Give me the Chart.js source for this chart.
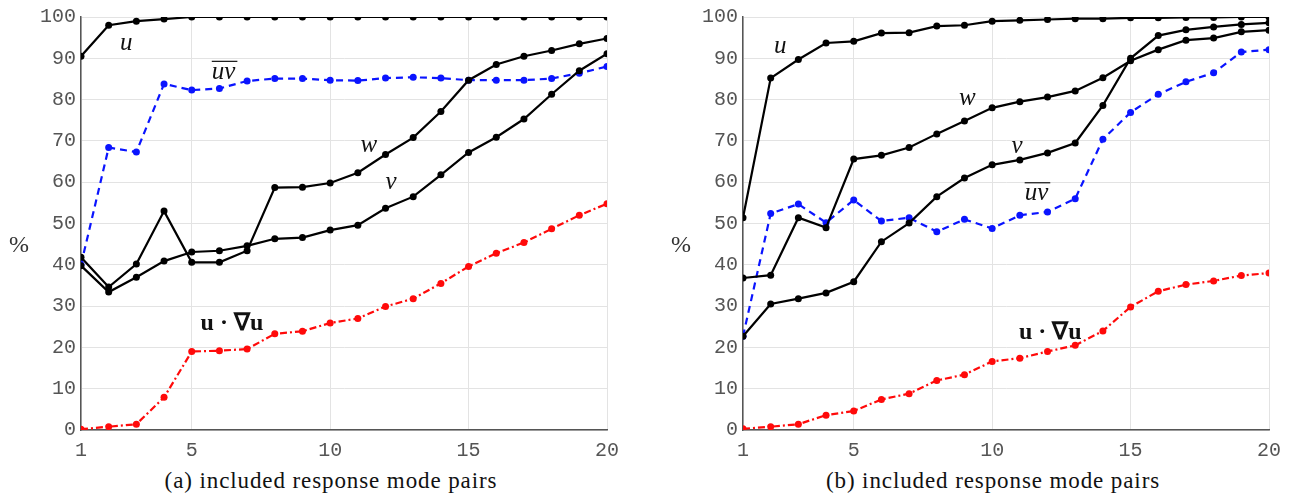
<!DOCTYPE html>
<html>
<head>
<meta charset="utf-8">
<script src="https://cdn.jsdelivr.net/npm/chart.js@4/dist/chart.umd.min.js"></script>
<style>
  body { margin: 0; background: #fff; width: 1291px; height: 495px; position: relative; overflow: hidden; }
  .panel { position: absolute; top: 0; height: 462px; }
  .caption { position: absolute; top: 468px; font: 23px "Liberation Serif", serif; letter-spacing: 0.9px; color: #111; white-space: nowrap; transform: translateX(-50%); }
  .pct { position: absolute; font: 24px "Liberation Serif", serif; color: #333; }
</style>
</head>
<body>
<div class="panel" style="left:0;width:640px"><canvas id="chart-a"></canvas></div>
<div class="panel" style="left:662px;width:629px"><canvas id="chart-b"></canvas></div>
<div class="pct" style="left:9px;top:231px">%</div>
<div class="pct" style="left:671px;top:231px">%</div>
<div class="caption" style="left:331px">(a) included response mode pairs</div>
<div class="caption" style="left:993px">(b) included response mode pairs</div>
<script>
const modes = [1, 2, 3, 4, 5, 6, 7, 8, 9, 10, 11, 12, 13, 14, 15, 16, 17, 18, 19, 20];
const xTicks = [1, 5, 10, 15, 20];

// (a)
const uA = [90.5, 98, 99, 99.5, 100, 100, 100, 100, 100, 100, 100, 100, 100, 100, 100, 100, 100, 100, 100, 100];
const wA = [41.8, 34.6, 40.2, 53, 40.6, 40.6, 43.4, 58.7, 58.8, 59.8, 62.3, 66.7, 70.8, 77.1, 84.7, 88.5, 90.5, 91.9, 93.5, 94.8];
const vA = [39.8, 33.4, 37, 40.9, 43.1, 43.4, 44.6, 46.3, 46.6, 48.4, 49.6, 53.7, 56.5, 61.8, 67.2, 70.9, 75.3, 81.3, 87.0, 91.1];
const uvA = [40, 68.4, 67.3, 83.8, 82.3, 82.7, 84.5, 85.1, 85.1, 84.7, 84.6, 85.2, 85.4, 85.2, 84.7, 84.7, 84.7, 85.1, 86.4, 88.0];
const gradA = [0.2, 0.8, 1.4, 7.9, 19, 19.2, 19.6, 23.3, 23.9, 25.9, 27, 29.9, 31.8, 35.5, 39.6, 42.8, 45.4, 48.7, 52.0, 54.8];

// (b)
const uB = [51.4, 85.2, 89.7, 93.7, 94.1, 96.1, 96.2, 97.8, 98, 99, 99.2, 99.4, 99.6, 99.6, 99.8, 99.8, 99.9, 99.9, 100, 100];
const wB = [36.8, 37.5, 51.4, 49, 65.6, 66.5, 68.4, 71.7, 74.8, 78, 79.5, 80.6, 82.1, 85.3, 89.4, 92.1, 94.4, 94.9, 96.4, 96.8];
const vB = [22.7, 30.5, 31.8, 33.2, 35.9, 45.6, 50.1, 56.5, 61, 64.2, 65.4, 67.1, 69.5, 78.6, 90, 95.5, 96.9, 97.6, 98.2, 98.6];
const uvB = [22.7, 52.4, 54.7, 50.2, 55.7, 50.6, 51.4, 48, 51, 48.8, 52, 52.8, 56, 70.4, 76.9, 81.3, 84.3, 86.5, 91.5, 92.1];
const gradB = [0.3, 0.8, 1.4, 3.6, 4.6, 7.4, 8.8, 12, 13.4, 16.6, 17.4, 19, 20.5, 24, 29.8, 33.6, 35.2, 36.1, 37.4, 38];

// label positions in data coordinates
const labelsA = [
  { text: 'u', x: 2.63, y: 93.5, font: 'italic 25px "Liberation Serif", serif' },
  { text: 'uv', x: 6.15, y: 86.6, font: 'italic 25px "Liberation Serif", serif', overline: true },
  { text: 'w', x: 11.4, y: 68.8, font: 'italic 25px "Liberation Serif", serif' },
  { text: 'v', x: 12.2, y: 59.9, font: 'italic 25px "Liberation Serif", serif' },
  { text: 'u · ∇u', x: 6.45, y: 25.8, font: 'bold 24px "Liberation Serif", serif' }
];
const labelsB = [
  { text: 'u', x: 2.35, y: 92.8, font: 'italic 25px "Liberation Serif", serif' },
  { text: 'w', x: 9.1, y: 80.4, font: 'italic 25px "Liberation Serif", serif' },
  { text: 'v', x: 10.9, y: 68.7, font: 'italic 25px "Liberation Serif", serif' },
  { text: 'uv', x: 11.6, y: 57.2, font: 'italic 25px "Liberation Serif", serif', overline: true },
  { text: 'u · ∇u', x: 12.1, y: 23.6, font: 'bold 24px "Liberation Serif", serif' }
];

const toPoints = (vals) => vals.map((v, i) => ({ x: modes[i], y: v }));

const lineSet = (vals, color, dash) => ({
  data: toPoints(vals),
  borderColor: color,
  backgroundColor: color,
  borderWidth: 2.2,
  borderDash: dash,
  pointRadius: 3.5,
  pointBorderWidth: 0,
  tension: 0
});

const textPlugin = {
  id: 'mathLabels',
  afterDatasetsDraw(chart, args, opts) {
    const { ctx, scales: { x, y } } = chart;
    ctx.save();
    ctx.fillStyle = '#111';
    ctx.textAlign = 'center';
    ctx.textBaseline = 'middle';
    opts.items.forEach(l => {
      const px = x.getPixelForValue(l.x);
      const py = y.getPixelForValue(l.y);
      ctx.font = l.font;
      ctx.fillText(l.text, px, py);
      if (l.overline) {
        const w = ctx.measureText(l.text).width;
        ctx.strokeStyle = '#111';
        ctx.lineWidth = 1.2;
        ctx.beginPath();
        ctx.moveTo(px - w / 2, py - 11);
        ctx.lineTo(px + w / 2 + 2, py - 11);
        ctx.stroke();
      }
    });
    ctx.restore();
  }
};

const makePanel = (id, u, w, v, uv, grad, labels, padRight) => {
  const canvas = document.getElementById(id);
  return new Chart(canvas.getContext('2d'), {
    type: 'line',
    data: {
      datasets: [
        lineSet(u, '#000000', []),
        lineSet(w, '#000000', []),
        lineSet(v, '#000000', []),
        lineSet(uv, '#0a14ff', [7, 5]),
        lineSet(grad, '#ff0a0a', [7, 3, 2, 3])
      ]
    },
    options: {
      responsive: true,
      maintainAspectRatio: false,
      animation: false,
      layout: { padding: { top: 15, right: padRight, left: 0, bottom: 0 } },
      plugins: {
        legend: { display: false },
        tooltip: { enabled: false },
        mathLabels: { items: labels }
      },
      scales: {
        x: {
          type: 'linear',
          min: 1,
          max: 20,
          afterBuildTicks: (s) => { s.ticks = xTicks.map(v => ({ value: v })); },
          afterFit: (s) => { s.height = 32; },
          grid: { color: '#e3e3e3', drawTicks: false },
          border: { color: '#555', width: 1.5 },
          ticks: { padding: 9, color: '#555', font: { family: '"Liberation Mono", monospace', size: 20 }, maxRotation: 0 }
        },
        y: {
          min: 0,
          max: 100,
          afterFit: (s) => { s.width = 81; },
          grid: { color: '#e3e3e3', drawTicks: false },
          border: { color: '#555', width: 1.5 },
          ticks: { stepSize: 10, padding: 5, color: '#555', font: { family: '"Liberation Mono", monospace', size: 20 } }
        }
      }
    },
    plugins: [textPlugin]
  });
};

makePanel('chart-a', uA, wA, vA, uvA, gradA, labelsA, 33);
makePanel('chart-b', uB, wB, vB, uvB, gradB, labelsB, 22);
</script>
</body>
</html>
